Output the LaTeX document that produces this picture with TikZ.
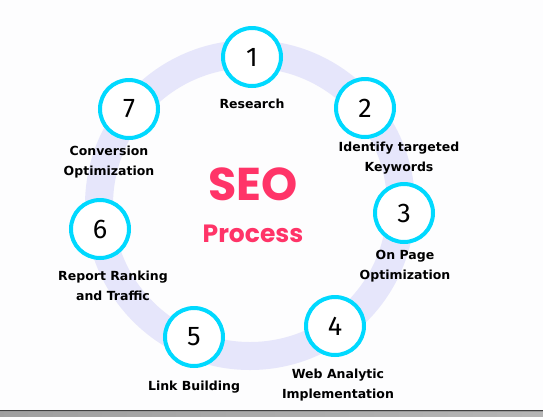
\documentclass[tikz,border=0pt]{standalone}
\usepackage{fontspec}
\setmainfont{Fira Sans}
\newfontfamily\seofont{Poppins}
\newfontfamily\labelfont{DejaVu Sans}
\definecolor{bgc}{HTML}{FDFDFE}
\definecolor{ringc}{HTML}{E6E6FB}
\definecolor{cyanc}{HTML}{00D9FF}
\definecolor{seoc}{HTML}{FF3468}
\begin{document}
\begin{tikzpicture}[x=1pt,y=-1pt,
  stepcircle/.style={circle,draw=cyanc,line width=4pt,fill=white,minimum size=58pt,inner sep=0pt,font=\fontsize{27}{27}\selectfont},
  steplabel/.style={align=center,font=\labelfont\bfseries\fontsize{12.5}{20}\selectfont,inner sep=0pt}]
\useasboundingbox (0,0) rectangle (543,416);
\fill[bgc] (0,0) rectangle (543,416);
\fill[gray!80] (0,411) rectangle (543,416);
\shade[left color=gray!75,right color=gray!95!black!55] (0,412) rectangle (543,416);
\draw[line width=1pt,black!75] (0,410.5) -- (543,410.5);
\coordinate (c) at (250,205);
\draw[ringc,line width=28pt] (c) circle[radius=151];
\node[stepcircle] (n1) at (252,57) {1};
\node[stepcircle] (n2) at (365,108) {2};
\node[stepcircle] (n3) at (404,213) {3};
\node[stepcircle] (n4) at (335,326) {4};
\node[stepcircle] (n5) at (194,337) {5};
\node[stepcircle] (n6) at (100,229) {6};
\node[stepcircle] (n7) at (129,109) {7};
\node[steplabel] (l1) at (252,104) {Research};
\node[steplabel] (l2) at (399,158.5) {Identify targeted\\Keywords};
\node[steplabel] (l3) at (405,266) {On Page\\Optimization};
\node[steplabel] (l4) at (338,385.5) {Web Analytic\\Implementation};
\node[steplabel] (l5) at (194,387) {Link Building};
\node[steplabel] (l6) at (113,285.5) {Report Ranking\\and Traffic};
\node[steplabel] (l7) at (109,162) {Conversion\\Optimization};
\node[font=\seofont\bfseries\fontsize{46}{46}\selectfont,text=seoc,inner sep=0pt] (seo) at (253,184) {SEO};
\node[font=\seofont\bfseries\fontsize{25}{25}\selectfont,text=seoc,inner sep=0pt] (proc) at (253,234) {Process};
\end{tikzpicture}
\end{document}
